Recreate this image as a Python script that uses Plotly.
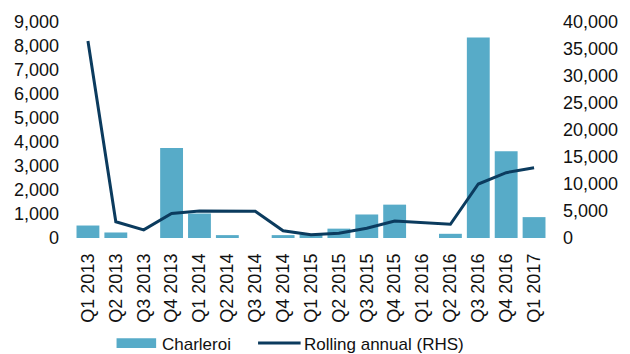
import plotly.graph_objects as go

categories = ["Q1 2013", "Q2 2013", "Q3 2013", "Q4 2013", "Q1 2014", "Q2 2014", "Q3 2014",
              "Q4 2014", "Q1 2015", "Q2 2015", "Q3 2015", "Q4 2015", "Q1 2016", "Q2 2016",
              "Q3 2016", "Q4 2016", "Q1 2017"]
charleroi = [520, 230, 0, 3750, 1020, 120, 0, 120, 150, 390, 980, 1390, 0, 175, 8350, 3610, 870]
rolling_annual = [36500, 3000, 1500, 4550, 5020, 4960, 4960, 1330, 600, 900, 1820, 3150, 2850, 2540,
                  10000, 12100, 13000]

left_ticks = [0, 1000, 2000, 3000, 4000, 5000, 6000, 7000, 8000, 9000]
right_ticks = [0, 5000, 10000, 15000, 20000, 25000, 30000, 35000, 40000]

BAR_COLOR = "#57ABC8"
LINE_COLOR = "#0B3B5E"
FONT = "Liberation Sans, Arial, sans-serif"

fig = go.Figure()
fig.add_trace(go.Bar(x=categories, y=charleroi, name="Charleroi", marker_color=BAR_COLOR,
                     marker_line_width=0, yaxis="y"))
fig.add_trace(go.Scatter(x=categories, y=rolling_annual, name="Rolling annual (RHS)", mode="lines",
                         line=dict(color=LINE_COLOR, width=3), yaxis="y2"))

W, H = 630, 354
ml, mr, mt, mb = 74, 77, 18, 116
fig.update_layout(
    width=W, height=H,
    margin=dict(l=ml, r=mr, t=mt, b=mb),
    paper_bgcolor="white", plot_bgcolor="white",
    font=dict(family=FONT, size=18, color="#111111"),
    showlegend=False,
    bargap=0.18,
    xaxis=dict(showgrid=False, showline=False, zeroline=False, tickangle=-90,
               tickfont=dict(size=18), ticklabelstandoff=11, type="category"),
    yaxis=dict(range=[0, 9000], tickvals=left_ticks, tickformat=",d", showgrid=False,
               zeroline=False, showline=False, ticklabelstandoff=14, tickfont=dict(size=18)),
    yaxis2=dict(range=[0, 40000], tickvals=right_ticks, tickformat=",d", overlaying="y",
                side="right", showgrid=False, zeroline=False, showline=False,
                ticklabelstandoff=14, tickfont=dict(size=18)),
)

# manual legend (pixel positions converted to paper coordinates)
pw = W - ml - mr
ph = H - mt - mb
def px(x):
    return (x - ml) / pw
def py(y):
    return (H - mb - y) / ph

ly = 345
fig.add_shape(type="rect", xref="paper", yref="paper", x0=px(117), x1=px(157),
              y0=py(ly + 5), y1=py(ly - 5), fillcolor=BAR_COLOR, line_width=0)
fig.add_annotation(xref="paper", yref="paper", x=px(161), y=py(ly + 1), text="Charleroi",
                   showarrow=False, xanchor="left", yanchor="middle", font=dict(size=17))
fig.add_shape(type="line", xref="paper", yref="paper", x0=px(260), x1=px(303),
              y0=py(ly), y1=py(ly), line=dict(color=LINE_COLOR, width=3))
fig.add_annotation(xref="paper", yref="paper", x=px(304), y=py(ly + 1), text="Rolling annual (RHS)",
                   showarrow=False, xanchor="left", yanchor="middle", font=dict(size=17))

fig.write_html("out.html")
